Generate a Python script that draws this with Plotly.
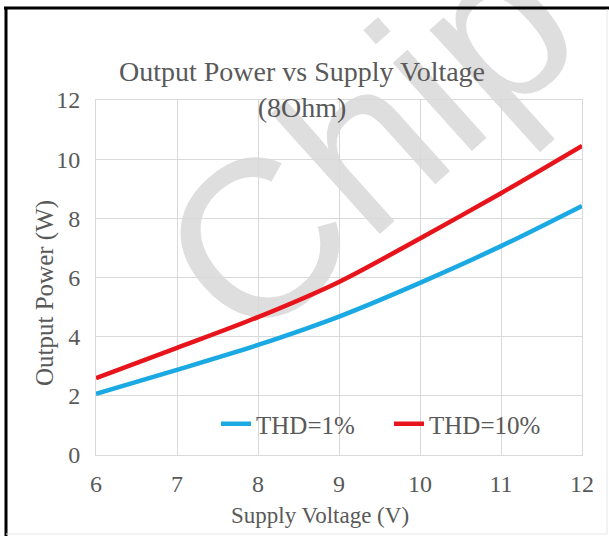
import plotly.graph_objects as go

# ---- data ----
supply_voltage = [6, 7, 8, 9, 10, 11, 12]
thd_1pct = [2.07, 2.88, 3.72, 4.68, 5.82, 7.06, 8.42]
thd_10pct = [2.60, 3.62, 4.66, 5.85, 7.32, 8.85, 10.45]
series_names = ["THD=1%", "THD=10%"]
x_ticks = [6, 7, 8, 9, 10, 11, 12]
y_ticks = [0, 2, 4, 6, 8, 10, 12]

W, H = 609, 536
L, R, T, B = 96, 27, 100, 81
PW, PH = W - L - R, H - T - B

def px(xp):
    return (xp - L) / PW

def py(yp):
    return (H - B - yp) / PH

FONT = "Liberation Serif, Times New Roman, serif"
TXT = "#595959"
GRID = "#d9d9d9"

fig = go.Figure()
fig.add_trace(go.Scatter(x=supply_voltage, y=thd_1pct, name=series_names[0], mode="lines",
                         line=dict(color="#1AA9E2", width=4.5, shape="spline", smoothing=0.8)))
fig.add_trace(go.Scatter(x=supply_voltage, y=thd_10pct, name=series_names[1], mode="lines",
                         line=dict(color="#E8141B", width=4.5, shape="spline", smoothing=0.8)))

fig.update_layout(
    width=W, height=H,
    margin=dict(l=L, r=R, t=T, b=B, autoexpand=False),
    paper_bgcolor="white", plot_bgcolor="rgba(0,0,0,0)",
    font=dict(family=FONT, color=TXT, size=24),
    title=dict(text="Output Power vs Supply Voltage<br>(8Ohm)", xref="container", x=302 / W,
               xanchor="center", yref="container", y=1 - 81 / H, yanchor="middle",
               font=dict(family=FONT, size=28, color=TXT)),
    showlegend=True,
    legend=dict(orientation="h", x=px(216), y=py(424), xanchor="left", yanchor="middle",
                bgcolor="rgba(0,0,0,0)", font=dict(family=FONT, size=25, color=TXT),
                entrywidth=128, entrywidthmode="pixels", tracegroupgap=0),
    xaxis=dict(range=[6, 12], tickvals=x_ticks, showgrid=True, gridcolor=GRID, gridwidth=1,
               showline=True, linecolor=GRID, linewidth=1, mirror=True, zeroline=False,
               ticks="", ticklabelstandoff=7),
    yaxis=dict(range=[0, 12], tickvals=y_ticks, showgrid=True, gridcolor=GRID, gridwidth=1,
               showline=True, linecolor=GRID, linewidth=1, mirror=True, zeroline=False,
               ticks="", ticklabelstandoff=10),
)

fig.add_annotation(text="Output Power (W)", xref="paper", yref="paper", x=px(45), y=py(293),
                   xanchor="center", yanchor="middle", textangle=-90, showarrow=False,
                   font=dict(family=FONT, size=25, color=TXT))
fig.add_annotation(text="Supply Voltage (V)", xref="paper", yref="paper", x=px(320), y=py(515),
                   xanchor="center", yanchor="middle", showarrow=False,
                   font=dict(family=FONT, size=23, color=TXT))

shapes = [
    # watermark carrier (invisible line with text label)
    dict(type="line", xref="paper", yref="paper", layer="below",
         x0=px(242), y0=py(225), x1=px(464), y1=py(25),
         line=dict(width=0, color="rgba(0,0,0,0)"),
         label=dict(text="Chip", textposition="middle", yanchor="middle",
                    font=dict(family="Liberation Sans, Arial, sans-serif", size=224,
                              color="#dedede"))),
    # frame
    dict(type="line", xref="paper", yref="paper", x0=px(4), x1=px(W), y0=py(8), y1=py(8),
         line=dict(color="black", width=3)),
    dict(type="line", xref="paper", yref="paper", x0=px(6), x1=px(6), y0=py(7), y1=py(H),
         line=dict(color="black", width=3)),
    dict(type="line", xref="paper", yref="paper", x0=px(607), x1=px(607), y0=py(9), y1=py(534),
         line=dict(color="#e6e6e6", width=1)),
    dict(type="line", xref="paper", yref="paper", x0=px(6), x1=px(607), y0=py(534), y1=py(534),
         line=dict(color="#e6e6e6", width=1)),
]
fig.update_layout(shapes=shapes)

fig.write_html("out.html", config={"displayModeBar": False},
               post_script="document.body.style.margin='0';")
